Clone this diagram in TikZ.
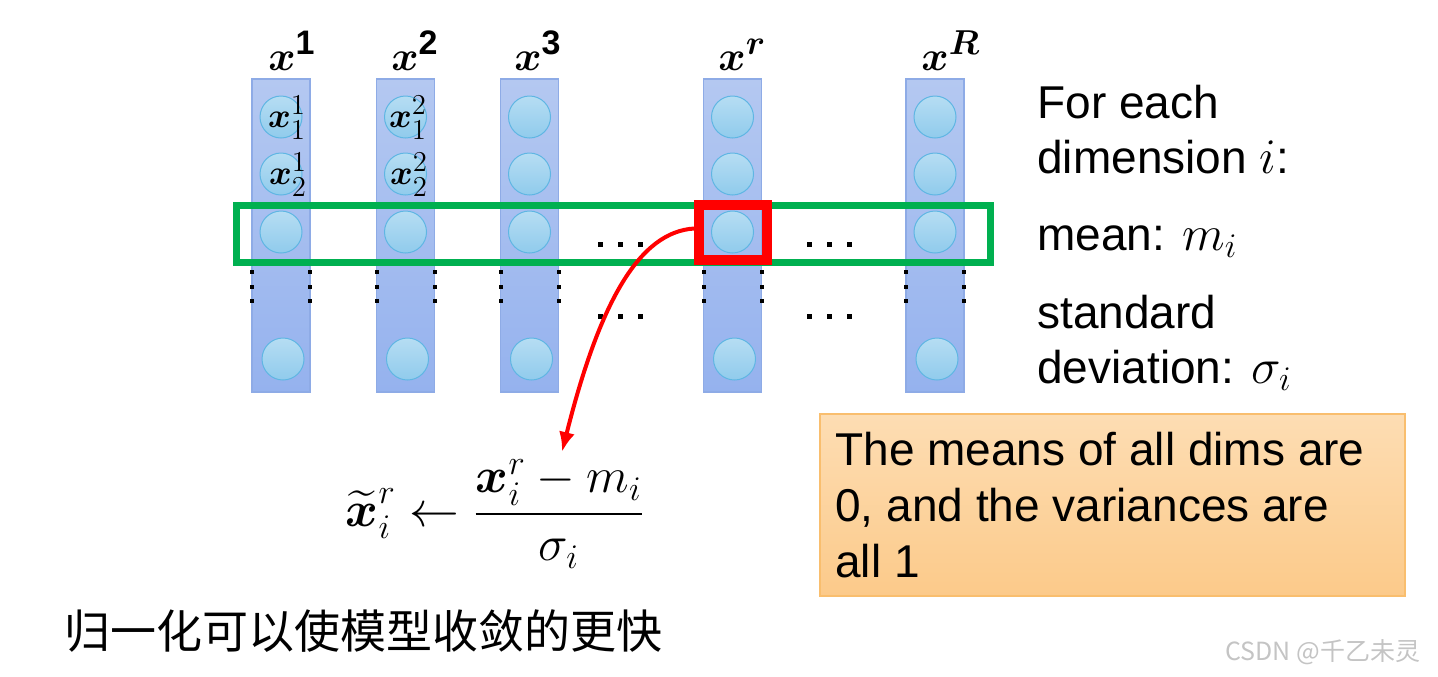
\documentclass[tikz,border=0pt]{standalone}
\usepackage{amsmath,amssymb}
\usepackage{fontspec}
\setmainfont{Liberation Sans}
\newfontfamily\cjk{Noto Sans CJK SC}
\usetikzlibrary{arrows.meta}
\DeclareMathSizes{19}{19}{15}{12}
\DeclareMathSizes{22}{22}{17}{13}
\DeclareMathSizes{23}{23}{17}{13}
\DeclareMathSizes{24}{24}{18}{14}
\definecolor{colfill1}{HTML}{B4C8F1}
\definecolor{colfill2}{HTML}{95B2EE}
\definecolor{colline}{HTML}{8EABE6}
\definecolor{cell1}{HTML}{B6DDF3}
\definecolor{cell2}{HTML}{90CBEC}
\definecolor{cellline}{HTML}{5FB6E3}
\definecolor{gbox}{HTML}{00B050}
\definecolor{rbox}{HTML}{FF0000}
\definecolor{ob1}{HTML}{FDDDB3}
\definecolor{ob2}{HTML}{FCCA8A}
\definecolor{obline}{HTML}{F9BE6E}
\definecolor{wm}{HTML}{C4C4C4}
\tikzset{
  colbox/.style={draw=colline, line width=0.6pt, top color=colfill1, bottom color=colfill2, minimum width=29pt, minimum height=156.5pt, inner sep=0pt},
  cell/.style={circle, draw=cellline, line width=0.5pt, top color=cell1, bottom color=cell2, minimum size=21pt, inner sep=0pt},
  celllab/.style={font=\fontsize{19}{20}\selectfont},
  collab/.style={font=\fontsize{22}{24}\selectfont, anchor=base west, inner sep=0pt},
  sidetext/.style={font=\fontsize{23}{26}\selectfont, anchor=base west, inner sep=0pt},
}
\begin{document}
\begin{tikzpicture}[x=0.5pt,y=-0.5pt]
\useasboundingbox (0,0) rectangle (1438,676);
% columns
\foreach \n/\cx in {1/281,2/405.5,3/529.5,r/732.5,R/935}{
  \node[colbox] (col\n) at (\cx,235.5) {};
  \node[cell] (c\n-1) at (\cx,117) {};
  \node[cell] (c\n-2) at (\cx,174) {};
  \node[cell] (c\n-3) at (\cx,232) {};
  \node[cell] (c\n-4) at (\cx+2,359) {};
  \foreach \yy in {272,287,301}{
    \fill (\cx-31,\yy-2) rectangle (\cx-27,\yy+2);
    \fill (\cx+27,\yy-2) rectangle (\cx+31,\yy+2);
  }
}
% column labels
\node[collab] (l1) at (268,70) {$\boldsymbol{x}^{\mathbf{1}}$};
\node[collab] (l2) at (391,70) {$\boldsymbol{x}^{\mathbf{2}}$};
\node[collab] (l3) at (514,70) {$\boldsymbol{x}^{\mathbf{3}}$};
\node[collab] (lr) at (718,70) {$\boldsymbol{x}^{\boldsymbol{r}}$};
\node[collab] (lR) at (921,70) {$\boldsymbol{x}^{\boldsymbol{R}}$};
% cell labels
\node[celllab] (t11) at (287,118) {$\boldsymbol{x}_{1}^{1}$};
\node[celllab] (t12) at (288,175) {$\boldsymbol{x}_{2}^{1}$};
\node[celllab] (t21) at (408,118) {$\boldsymbol{x}_{1}^{2}$};
\node[celllab] (t22) at (409,175) {$\boldsymbol{x}_{2}^{2}$};
% dots
\foreach \sx in {598,807}{
  \foreach \k in {0,1,2}{
    \fill (\sx+\k*20,242) rectangle (\sx+\k*20+5,247);
    \fill (\sx+\k*20,314) rectangle (\sx+\k*20+5,319);
  }
}
% green row box
\node[draw=gbox, line width=3.5pt, minimum width=377pt, minimum height=28.5pt, inner sep=0pt] (row) at (613,233.5) {};
% red selection box
\node[draw=rbox, line width=5pt, minimum width=34pt, minimum height=27.5pt, inner sep=0pt] (sel) at (733,232.5) {};
% formula
\node[font=\fontsize{24}{28}\selectfont] (formula) at (495,514) {$\displaystyle \widetilde{\boldsymbol{x}}_{i}^{r} \leftarrow \frac{\boldsymbol{x}_{i}^{r}-m_i}{\sigma_i}$};
\coordinate (tip) at (562,452);
\draw[rbox, line width=2pt, -{Latex[length=10pt,width=8pt]}] ([yshift=2pt]sel.west) .. controls (640,232) and (600,300) .. (tip);
% side text
\node[sidetext] (s1) at (1037,118) {For each};
\node[sidetext] (s2) at (1037,173) {dimension $i$:};
\node[sidetext] (s3) at (1037,250) {mean: $m_i$};
\node[sidetext] (s4) at (1037,328) {standard};
\node[sidetext] (s5) at (1037,383) {deviation: $\sigma_i$};
% note box
\node[draw=obline, line width=0.6pt, top color=ob1, bottom color=ob2, minimum width=292.5pt, minimum height=91pt, inner sep=0pt] (note) at (1112.5,505) {};
\node[font=\fontsize{23}{28}\selectfont, anchor=north west, align=left, inner sep=0pt] (notetext) at (835,432) {The means of all dims are\\0, and the variances are\\all 1};
% chinese caption
\node[font=\cjk\fontsize{23}{26}\selectfont, anchor=base west, inner sep=0pt] (cn) at (64,648) {归一化可以使模型收敛的更快};
% watermark
\node[font=\cjk\fontsize{12.5}{14}\selectfont, text=wm, anchor=base west, inner sep=0pt] (wmk) at (1225,660) {CSDN @千乙未灵};
\end{tikzpicture}
\end{document}
